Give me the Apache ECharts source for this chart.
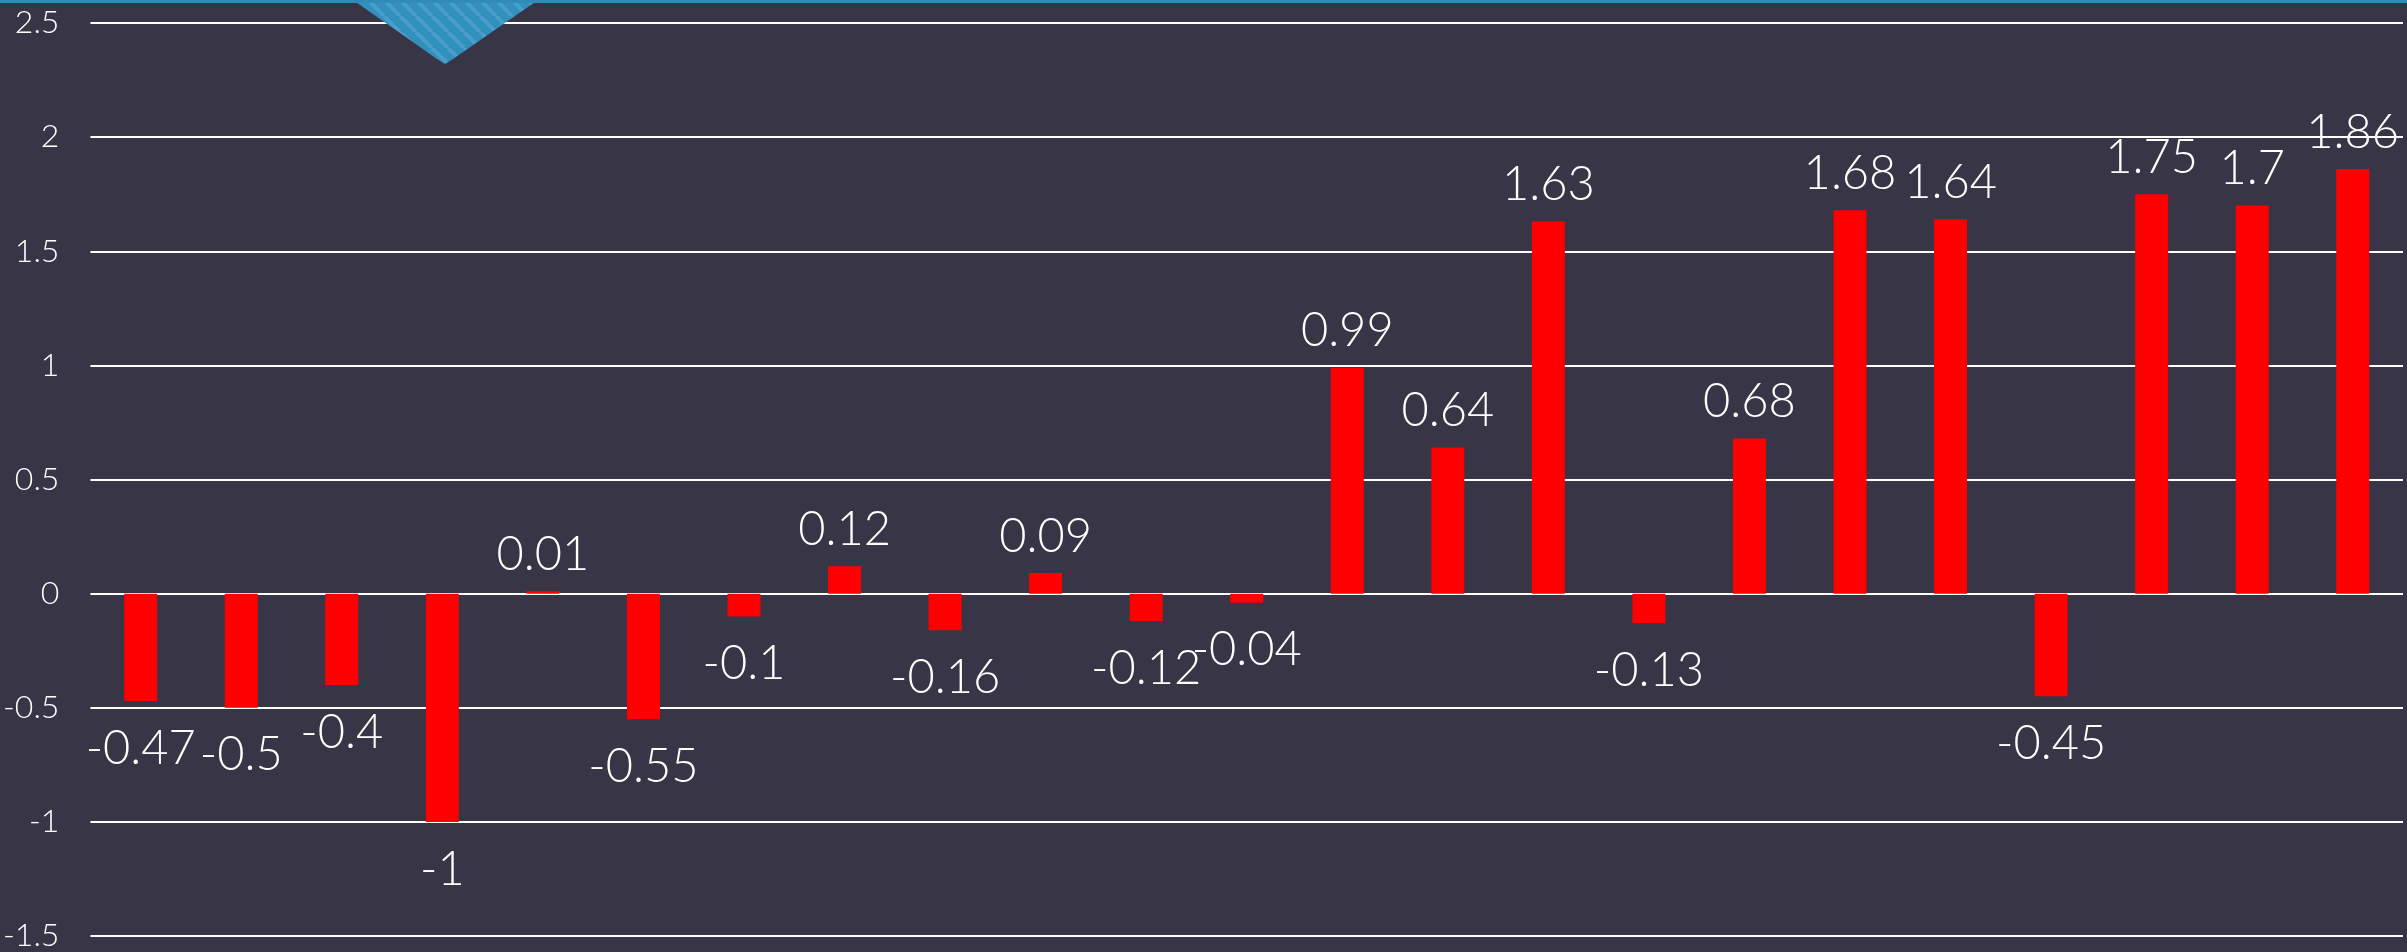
<!DOCTYPE html>
<html>
<head>
<meta charset="utf-8">
<script src="https://cdn.jsdelivr.net/npm/echarts@6/dist/echarts.min.js"></script>
<style>
html,body{margin:0;padding:0;background:#383546;}
#chart{width:2407px;height:952px;}
</style>
</head>
<body>
<div id="chart"></div>
<script>
var categories = ['1','2','3','4','5','6','7','8','9','10','11','12','13','14','15','16','17','18','19','20','21','22','23'];
var values = [-0.47, -0.5, -0.4, -1, 0.01, -0.55, -0.1, 0.12, -0.16, 0.09, -0.12, -0.04, 0.99, 0.64, 1.63, -0.13, 0.68, 1.68, 1.64, -0.45, 1.75, 1.7, 1.86];
var yTicks = {min: -1.5, max: 2.5, interval: 0.5};

var seriesData = values.map(function (v) {
  return {value: v, label: {distance: v < 0 ? 24 : 13}};
});

// striped pattern for decorative triangle
var pc = document.createElement('canvas');
pc.width = 16; pc.height = 16;
var pctx = pc.getContext('2d');
pctx.fillStyle = '#3190BC';
pctx.fillRect(0,0,16,16);
pctx.strokeStyle = '#4A9FCA';
pctx.lineWidth = 4;
for (var k = -16; k <= 32; k += 16) {
  pctx.beginPath();
  pctx.moveTo(k, 0);
  pctx.lineTo(k + 16, 16);
  pctx.stroke();
}

var chart = echarts.init(document.getElementById('chart'));
chart.setOption({
  backgroundColor: '#383546',
  animation: false,
  grid: {left: 85, right: 4, top: 23, bottom: 14, containLabel: false},
  xAxis: {
    type: 'category',
    data: categories,
    axisLine: {show: false},
    axisTick: {show: false},
    axisLabel: {show: false},
    splitLine: {show: false}
  },
  yAxis: {
    type: 'value',
    min: yTicks.min,
    max: yTicks.max,
    interval: yTicks.interval,
    axisLine: {show: false},
    axisTick: {show: false},
    axisLabel: {color: '#FFFFFF', fontSize: 32, fontFamily: 'Lato', fontWeight: 300, margin: 31},
    splitLine: {lineStyle: {color: '#FFFFFF', width: 2}}
  },
  graphic: [
    {type: 'polygon', z: 100, shape: {points: [[353,0],[538,0],[453,59],[445,64],[437,59]]}, style: {fill: {image: pc, repeat: 'repeat'}}},
    {type: 'rect', z: 101, shape: {x: 0, y: 0, width: 2407, height: 3}, style: {fill: '#2E8CB8'}}
  ],
  series: [{
    type: 'bar',
    data: seriesData,
    barWidth: 33,
    itemStyle: {color: '#FF0000'},
    label: {
      show: true,
      position: 'outside',
      distance: 16,
      color: '#FFFFFF',
      fontSize: 47,
      lineHeight: 47,
      fontFamily: 'Lato',
      fontWeight: 300
    }
  }]
});
</script>
</body>
</html>
